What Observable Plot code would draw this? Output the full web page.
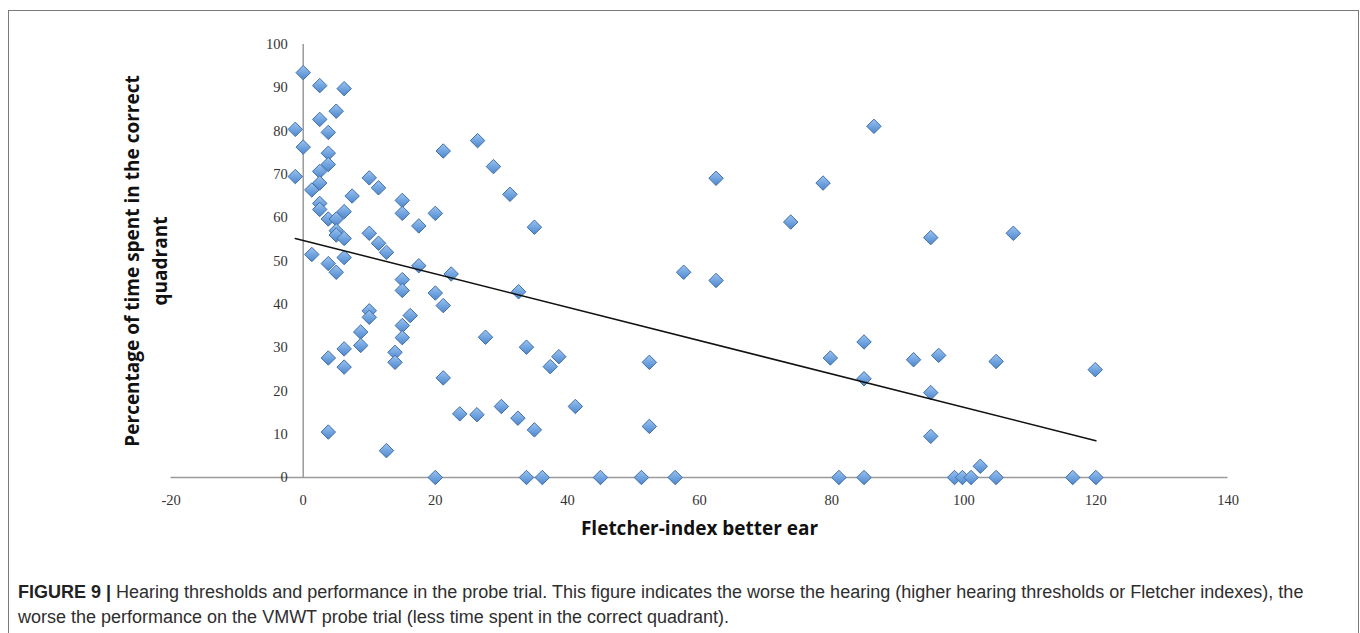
<!DOCTYPE html>
<html>
<head>
<meta charset="utf-8">
<script src="https://cdn.jsdelivr.net/npm/d3@7"></script>
<script src="https://cdn.jsdelivr.net/npm/@observablehq/plot@0.6"></script>
<style>
  html, body { margin: 0; padding: 0; background: #fff; }
  #frame { position: absolute; left: 8px; top: 10px; width: 1351px; height: 640px; border: 1.5px solid #7a7a7a; box-sizing: border-box; }
  #chart { position: absolute; left: 0; top: 0; }
  #caption { position: absolute; left: 18px; top: 580px; width: 1330px; white-space: nowrap; font-family: "Liberation Sans", Arial, sans-serif; font-size: 18px; line-height: 24.5px; color: #2e2e2e; }
  #caption b { font-weight: bold; color: #222; }
</style>
</head>
<body>
<div id="frame"></div>
<div id="chart"></div>
<div id="caption"><b>FIGURE 9 |</b> Hearing thresholds and performance in the probe trial. This figure indicates the worse the hearing (higher hearing thresholds or Fletcher indexes), the<br>worse the performance on the VMWT probe trial (less time spent in the correct quadrant).</div>
<script>
// Fletcher-index of the better ear (x) and % time spent in the correct quadrant (y)
const fletcherIndex = [
  0, 2.5, 6.2, 5.0, 2.5, -1.2, 3.8, 0, 3.8, 3.8,
  2.5, -1.2, 2.5, 1.3, 10.0, 11.4, 7.4, 2.5, 2.5, 3.8,
  5.0, 6.2, 5.0, 5.0, 6.2, 1.3, 3.8, 5.0, 6.2, 10.0,
  11.4, 12.6, 15.0, 15.0, 17.5, 20.0, 17.5, 15.0, 15.0, 20.0,
  21.2, 22.4, 21.2, 26.4, 28.8, 31.3, 35.0, 32.6, 57.6, 10.0,
  10.0, 16.2, 15.0, 15.0, 13.9, 13.9, 27.6, 33.8, 38.7, 37.4,
  21.2, 23.7, 26.3, 30.0, 32.5, 35.0, 41.2, 12.6, 20.0, 33.8,
  36.2, 45.0, 3.8, 6.2, 6.2, 8.7, 8.7, 3.8, 62.5, 78.7,
  73.8, 62.5, 52.4, 52.4, 51.2, 56.3, 79.8, 84.9, 84.9, 81.1,
  84.9, 86.4, 95.0, 107.5, 92.4, 96.2, 104.9, 119.9, 95.0, 95.0,
  102.5, 98.6, 99.8, 101.1, 104.9, 116.5, 120.0
];
const pctTime = [
  93.5, 90.5, 89.8, 84.6, 82.7, 80.4, 79.7, 76.3, 74.9, 72.3,
  70.7, 69.5, 68.0, 66.4, 69.2, 66.9, 65.0, 63.3, 61.9, 59.7,
  59.7, 61.4, 57.0, 56.0, 55.2, 51.5, 49.4, 47.4, 50.8, 56.4,
  54.1, 52.0, 64.0, 61.0, 58.1, 61.0, 48.9, 45.7, 43.2, 42.6,
  39.7, 47.0, 75.4, 77.8, 71.8, 65.4, 57.8, 42.9, 47.4, 38.5,
  37.0, 37.4, 35.1, 32.3, 28.9, 26.6, 32.4, 30.1, 27.9, 25.6,
  23.0, 14.7, 14.5, 16.4, 13.7, 11.0, 16.4, 6.2, 0, 0,
  0, 0, 27.6, 29.7, 25.5, 33.6, 30.5, 10.5, 69.1, 68.0,
  59.0, 45.5, 26.6, 11.8, 0, 0, 27.6, 31.3, 22.8, 0,
  0, 81.1, 55.4, 56.4, 27.2, 28.2, 26.8, 24.9, 19.6, 9.5,
  2.6, 0, 0, 0, 0, 0, 0
];
// Linear trend line (as drawn in the original figure)
const trendX = [-1.2, 120];
const trendY = [55.2, 8.5];

const xTicks = [-20, 0, 20, 40, 60, 80, 100, 120, 140];
const yTicks = [0, 10, 20, 30, 40, 50, 60, 70, 80, 90, 100];

const points = fletcherIndex.map((x, i) => ({x, y: pctTime[i]}));
const trend = trendX.map((x, i) => ({x, y: trendY[i]}));

const W = 1360, H = 560;
const svg = Plot.plot({
  width: W,
  height: H,
  marginLeft: 170.6,
  marginRight: 132.5,
  marginTop: 44,
  marginBottom: 83,
  style: {fontFamily: "'Liberation Serif', serif", fontSize: "14.5px", background: "transparent", overflow: "visible"},
  x: {domain: [xTicks[0], xTicks[xTicks.length - 1]], axis: null},
  y: {domain: [yTicks[0], yTicks[yTicks.length - 1]], axis: null},
  marks: [
    // x axis line across the full domain at y = 0
    Plot.ruleY([yTicks[0]], {x1: xTicks[0], x2: xTicks[xTicks.length - 1], stroke: "#9a9a9a", strokeWidth: 1.5}),
    // y axis line at x = 0
    Plot.ruleX([0], {y1: yTicks[0], y2: yTicks[yTicks.length - 1], stroke: "#9a9a9a", strokeWidth: 1.5}),
    // tick labels
    Plot.text(yTicks, {x: () => 0, y: d => d, text: d => String(d), dx: -15.5, textAnchor: "end", lineAnchor: "middle", fill: "#333"}),
    Plot.text(xTicks, {x: d => d, y: () => 0, text: d => String(d), dy: 23, lineAnchor: "middle", fill: "#333"}),
    // axis titles
    Plot.text(["Fletcher-index better ear"], {frameAnchor: "bottom", dy: 51, textAnchor: "middle", lineAnchor: "middle", fontFamily: "'Open Sans', sans-serif", fontWeight: "bold", fontSize: 19, fill: "#111"}),
    Plot.text(["Percentage of time spent in the correct\nquadrant"], {frameAnchor: "left", rotate: -90, dx: -27, textAnchor: "middle", lineAnchor: "middle", lineHeight: 1.45, fontFamily: "'Open Sans', sans-serif", fontWeight: "bold", fontSize: 19, fill: "#111"}),
    // data points
    Plot.dot(points, {x: "x", y: "y", symbol: "diamond2", r: 6.5, fill: "url(#dg)", stroke: "#3f6ea9", strokeWidth: 1}),
    // trend line
    Plot.line(trend, {x: "x", y: "y", stroke: "#111", strokeWidth: 1.5})
  ]
});
const defs = document.createElementNS("http://www.w3.org/2000/svg", "defs");
defs.innerHTML = '<linearGradient id="dg" x1="0" y1="0" x2="0" y2="1"><stop offset="0" stop-color="#9cc3ef"/><stop offset="0.5" stop-color="#72a5e0"/><stop offset="1" stop-color="#4f86cc"/></linearGradient>';
svg.insertBefore(defs, svg.firstChild);
document.getElementById("chart").appendChild(svg);
</script>
</body>
</html>
